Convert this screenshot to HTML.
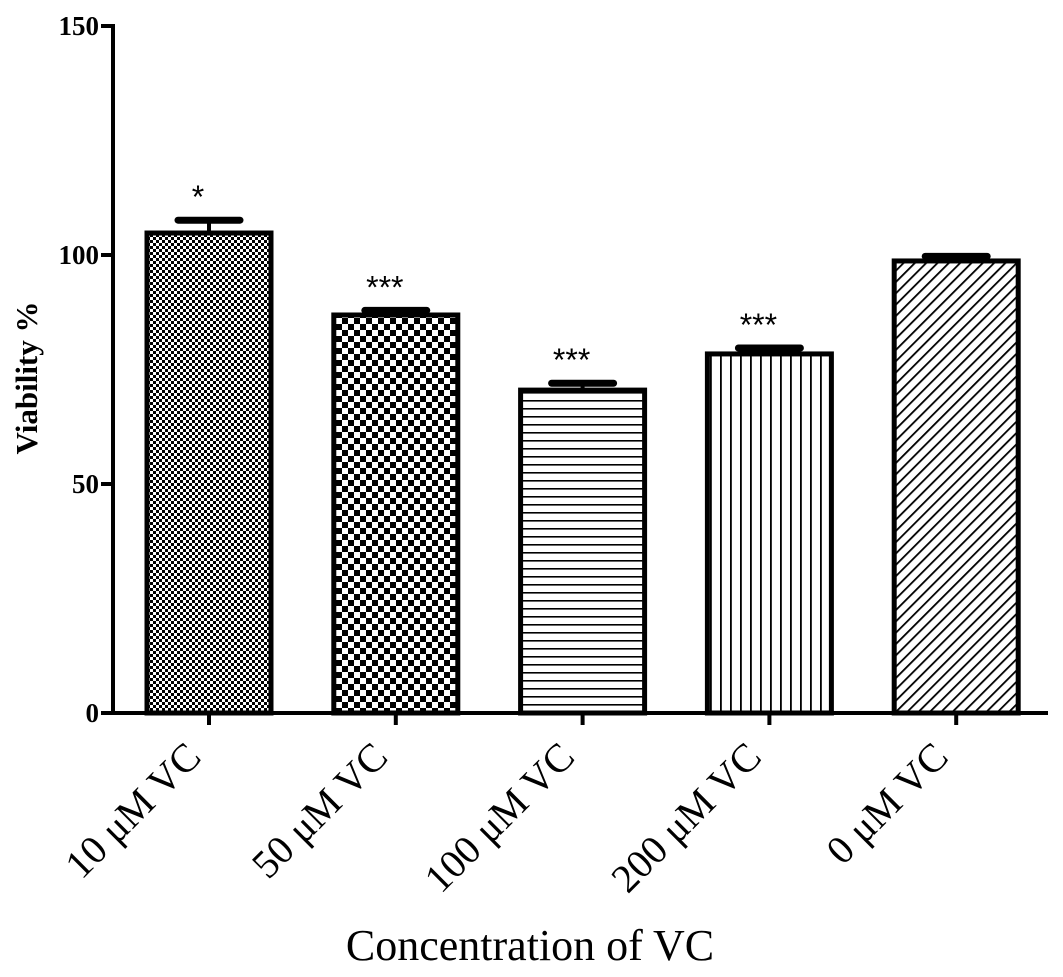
<!DOCTYPE html>
<html><head><meta charset="utf-8"><style>
html,body{margin:0;padding:0;background:#fff;}
svg{display:block;font-family:"Liberation Serif",serif;}
</style></head><body>
<svg id="chart" width="1063" height="977" viewBox="0 0 1063 977">
<defs>
<pattern id="p0" width="6" height="6" patternUnits="userSpaceOnUse"><rect width="6" height="6" fill="#fff"/><rect width="3" height="3" fill="#000"/><rect x="3" y="3" width="3" height="3" fill="#000"/></pattern>
<pattern id="p1" width="12" height="12" patternUnits="userSpaceOnUse"><rect width="12" height="12" fill="#fff"/><rect width="6" height="6" fill="#000"/><rect x="6" y="6" width="6" height="6" fill="#000"/></pattern>
<pattern id="p2" width="8" height="8" patternUnits="userSpaceOnUse"><rect width="8" height="8" fill="#fff"/><rect y="0" width="8" height="1.6" fill="#000"/></pattern>
<pattern id="p3" width="10" height="10" patternUnits="userSpaceOnUse"><rect width="10" height="10" fill="#fff"/><rect x="0" width="1.8" height="10" fill="#000"/></pattern>
<pattern id="p4" width="8" height="8" patternUnits="userSpaceOnUse" patternTransform="rotate(45)"><rect width="8" height="8" fill="#fff"/><rect width="1.8" height="8" fill="#000"/></pattern>
</defs>
<g id="bars"></g>
<g id="axes"></g>
</svg>
<script>
const categories = ["10 μM VC","50 μM VC","100 μM VC","200 μM VC","0 μM VC"];
const values = [104.8, 86.9, 70.5, 78.4, 98.7];
const errors = [2.8, 1.0, 1.5, 1.3, 1.0];
const stars = ["*","***","***","***",""];
const yTicks = [0, 50, 100, 150];

const NS = "http://www.w3.org/2000/svg";
const y0 = 713, yScale = 4.58, axisX = 113;
const y = v => y0 - v * yScale;
const xc = i => 209 + i * 186.8;
const barW = 124;
function mk(tag, attrs, parent){const e=document.createElementNS(NS,tag);for(const k in attrs)e.setAttribute(k,attrs[k]);parent.appendChild(e);return e;}
const gb = document.getElementById('bars'), ga = document.getElementById('axes');

categories.forEach((c,i)=>{
  const cx = xc(i), top = y(values[i]);
  const eb = mk('line',{x1:cx,x2:cx,y1:top,y2:y(values[i]+errors[i]),stroke:'#000','stroke-width':4},gb);
  
  
  const cap = mk('line',{x1:cx-31,x2:cx+31,y1:y(values[i]+errors[i]),y2:y(values[i]+errors[i]),stroke:'#000','stroke-width':7,'stroke-linecap':'round'},gb);
  
  
  const r = mk('rect',{x:cx-barW/2,y:top,width:barW,height:y0-top,fill:'url(#p'+i+')',stroke:'#000','stroke-width':5},gb);
  
  
  if(stars[i]){
    const s = mk('text',{x:cx-11,y:y(values[i]+errors[i])-12,'text-anchor':'middle','font-size':32,'font-family':'Liberation Sans, sans-serif'},gb);
    s.textContent = stars[i];
    
    
  }
  const t = mk('line',{x1:cx,x2:cx,y1:y0,y2:y0+12,stroke:'#000','stroke-width':4},ga);
  
  
  const lx = cx-6, ly = y0+46;
  const lb = mk('text',{x:lx,y:ly,'text-anchor':'end','font-size':40,transform:`rotate(-45 ${lx} ${ly})`},ga);
  lb.textContent = c;
  
  
});

const xa = mk('line',{x1:103,x2:1048,y1:y0,y2:y0,stroke:'#000','stroke-width':4},ga);


const ya = mk('line',{x1:axisX,x2:axisX,y1:y(150)-2,y2:y0+2,stroke:'#000','stroke-width':4},ga);


yTicks.forEach(v=>{
  const t = mk('line',{x1:axisX-12,x2:axisX,y1:y(v),y2:y(v),stroke:'#000','stroke-width':4},ga);
  
  
  const l = mk('text',{x:axisX-14,y:y(v)+9,'text-anchor':'end','font-size':27,'font-weight':'bold'},ga);
  l.textContent = v;
  
  
});
const yt = mk('text',{x:37,y:378,'text-anchor':'middle','font-size':31,'font-weight':'bold',transform:'rotate(-90 37 378)'},ga);
yt.textContent = 'Viability %';


const xt = mk('text',{x:530,y:960,'text-anchor':'middle','font-size':44},ga);
xt.textContent = 'Concentration of VC';


</script>
</body></html>
